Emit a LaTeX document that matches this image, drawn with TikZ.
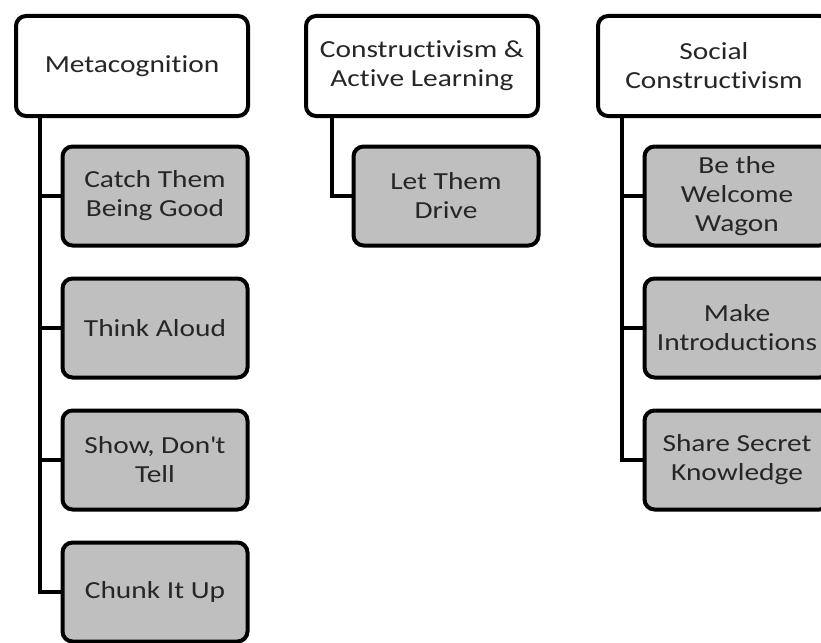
\documentclass[tikz,border=0pt]{standalone}
\usepackage{fontspec}
\setmainfont{Carlito}[FakeStretch=1.2,Ligatures={NoCommon}]
\usetikzlibrary{positioning}

\begin{document}
\begin{tikzpicture}[x=1pt,y=-1pt,
		topic/.style={draw,line width=4pt,rounded corners=10pt,fill=white,
			minimum width=232pt,minimum height=100pt,align=center,
			font=\fontsize{24.5}{29}\selectfont,text=black!85},
		tip/.style={topic,fill=black!25,minimum width=185pt,minimum height=99pt},
		link/.style={line width=4pt}]
		\useasboundingbox (0,0) rectangle (821,642);
		\clip (0,0) rectangle (821,642);

		\draw (132,66) node [topic] (meta) {Metacognition};
		\draw (422,66) node [topic] (cons) {Constructivism \&\\Active Learning};
		\draw (714,66) node [topic] (soc) {Social\\Constructivism};

		\draw (155,196) node [tip] (catch) {Catch Them\\Being Good};
		\draw (155,328) node [tip] (think) {Think Aloud};
		\draw (155,460) node [tip] (show) {Show, Don\textquotesingle t\\Tell};
		\draw (155,592) node [tip] (chunk) {Chunk It Up};

		\draw (446,196) node [tip] (drive) {Let Them\\Drive};

		\draw (737,196) node [tip] (wagon) {Be the\\Welcome\\Wagon};
		\draw (737,328) node [tip] (intro) {Make\\Introductions};
		\draw (737,460) node [tip] (secret) {Share Secret\\Knowledge};

		\draw[link]
			([xshift=26pt]meta.south west) |- (catch.west)
			([xshift=26pt]meta.south west) |- (think.west)
			([xshift=26pt]meta.south west) |- (show.west)
			([xshift=26pt]meta.south west) |- (chunk.west)
			([xshift=28pt]cons.south west) |- (drive.west)
			([xshift=26pt]soc.south west) |- (wagon.west)
			([xshift=26pt]soc.south west) |- (intro.west)
			([xshift=26pt]soc.south west) |- (secret.west)
		;
	\end{tikzpicture}
\end{document}
